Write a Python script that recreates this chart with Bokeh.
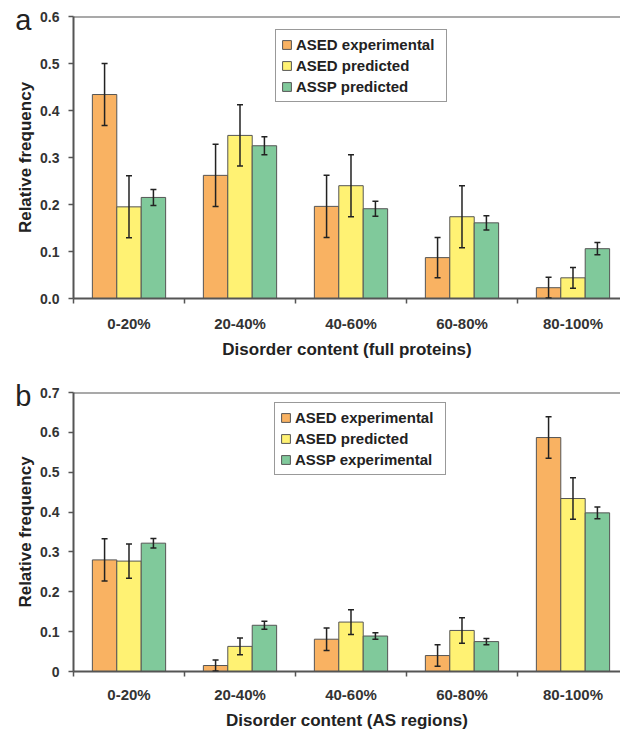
from bokeh.plotting import figure
from bokeh.layouts import column
from bokeh.models import (ColumnDataSource, Whisker, TeeHead, FixedTicker, Span,
                          Legend, LegendItem, NumeralTickFormatter, Range1d, LinearAxis)
from bokeh.embed import file_html
from bokeh.resources import INLINE

# ---------------- data ----------------
categories = ["0-20%", "20-40%", "40-60%", "60-80%", "80-100%"]

# panel a: full proteins
a_ased_exp = [0.434, 0.262, 0.196, 0.087, 0.023]
a_ased_exp_err = [0.066, 0.066, 0.066, 0.043, 0.022]
a_ased_pred = [0.195, 0.347, 0.240, 0.174, 0.044]
a_ased_pred_err = [0.066, 0.065, 0.066, 0.066, 0.022]
a_assp_pred = [0.215, 0.325, 0.191, 0.161, 0.106]
a_assp_pred_err = [0.017, 0.019, 0.016, 0.015, 0.013]
a_names = ["ASED experimental", "ASED predicted", "ASSP predicted"]

# panel b: AS regions
b_ased_exp = [0.280, 0.015, 0.081, 0.040, 0.587]
b_ased_exp_err = [0.053, 0.014, 0.028, 0.027, 0.052]
b_ased_pred = [0.277, 0.063, 0.124, 0.103, 0.434]
b_ased_pred_err = [0.043, 0.021, 0.031, 0.032, 0.052]
b_assp_exp = [0.322, 0.116, 0.089, 0.075, 0.398]
b_assp_exp_err = [0.012, 0.010, 0.008, 0.008, 0.015]
b_names = ["ASED experimental", "ASED predicted", "ASSP experimental"]

colors = ["#F9B262", "#FFF273", "#80C99B"]
FONT = "Liberation Sans"


def make_panel(letter, series, errs, names, ymax, yfmt, xtitle, height, top, bottom,
               legend_xy, tick_standoff, title_standoff):
    n = len(categories)
    p = figure(width=620, height=height, output_backend="svg", toolbar_location=None,
               x_range=Range1d(0, 4.928), y_range=Range1d(0, ymax),
               min_border_left=73, min_border_right=0, min_border_top=top,
               min_border_bottom=bottom, outline_line_color=None,
               background_fill_color="white", border_fill_color="white")
    p.xgrid.visible = False
    p.ygrid.visible = False

    offsets = [-0.22, 0.0, 0.22]
    items = []
    for k, (vals, err, name) in enumerate(zip(series, errs, names)):
        xs = [i + 0.5 + offsets[k] for i in range(n)]
        src = ColumnDataSource(dict(x=xs, top=vals,
                                    lo=[v - e for v, e in zip(vals, err)],
                                    hi=[v + e for v, e in zip(vals, err)]))
        r = p.vbar(x="x", top="top", width=0.22, bottom=0, source=src,
                   fill_color=colors[k], line_color="#555555", line_width=1)
        items.append(LegendItem(label=name, renderers=[r]))
        w = Whisker(base="x", lower="lo", upper="hi", source=src, level="annotation",
                    line_color="#222222", line_width=1.5,
                    upper_head=TeeHead(size=6, line_color="#222222", line_width=1.5),
                    lower_head=TeeHead(size=6, line_color="#222222", line_width=1.5))
        p.add_layout(w)

    legend = Legend(items=items, location=legend_xy, orientation="vertical",
                    border_line_color="#333333", border_line_width=1.5,
                    background_fill_color="white", background_fill_alpha=1,
                    label_text_font=FONT, label_text_font_style="bold",
                    label_text_font_size="15px", label_text_color="#222222",
                    glyph_width=11, glyph_height=11, label_height=19, label_width=145,
                    label_standoff=4, padding=5, spacing=2, margin=0)
    p.add_layout(legend)

    # top border line
    p.add_layout(Span(location=ymax, dimension="width", line_color="#555555", line_width=2))

    # x axis: labels at category centres, ticks at boundaries
    xa = p.xaxis[0]
    xa.ticker = FixedTicker(ticks=[i + 0.5 for i in range(n)],
                            minor_ticks=list(range(n + 1)))
    xa.major_label_overrides = {i + 0.5: c for i, c in enumerate(categories)}
    xa.major_tick_out = 0
    xa.major_tick_in = 0
    xa.minor_tick_out = 5
    xa.minor_tick_in = 0
    xa.minor_tick_line_color = "#555555"
    xa.minor_tick_line_width = 1.5
    xa.axis_line_color = "#555555"
    xa.axis_line_width = 2
    xa.major_label_text_font = FONT
    xa.major_label_text_font_style = "bold"
    xa.major_label_text_font_size = "15px"
    xa.major_label_text_color = "#333333"
    xa.major_label_standoff = tick_standoff
    xa.axis_label = xtitle
    xa.axis_label_text_font = FONT
    xa.axis_label_text_font_style = "bold"
    xa.axis_label_text_font_size = "17px"
    xa.axis_label_text_color = "#222222"
    xa.axis_label_standoff = title_standoff

    ya = p.yaxis[0]
    ya.ticker = FixedTicker(ticks=[i / 10 for i in range(int(round(ymax * 10)) + 1)])
    ya.formatter = NumeralTickFormatter(format=yfmt)
    ya.major_tick_out = 5
    ya.major_tick_in = 0
    ya.minor_tick_out = 0
    ya.minor_tick_in = 0
    ya.major_tick_line_color = "#555555"
    ya.major_tick_line_width = 1.5
    ya.axis_line_color = "#555555"
    ya.axis_line_width = 2
    ya.major_label_text_font = FONT
    ya.major_label_text_font_style = "bold"
    ya.major_label_text_font_size = "14px"
    ya.major_label_text_color = "#333333"
    ya.major_label_standoff = 9
    ya.axis_label = "Relative frequency"
    ya.axis_label_text_font = FONT
    ya.axis_label_text_font_style = "bold"
    ya.axis_label_text_font_size = "17px"
    ya.axis_label_text_color = "#222222"
    ya.axis_label_standoff = 2

    # panel letter, drawn as the single label of an extra (lineless) left axis
    letter_tick = ymax * 0.987
    la = LinearAxis(ticker=FixedTicker(ticks=[letter_tick], minor_ticks=[]),
                    major_label_overrides={letter_tick: letter},
                    axis_line_color=None, major_tick_line_color=None,
                    minor_tick_line_color=None, major_tick_out=0, major_tick_in=0,
                    minor_tick_out=0, minor_tick_in=0, major_label_standoff=-18,
                    major_label_text_font=FONT, major_label_text_font_size="29px",
                    major_label_text_font_style="normal", major_label_text_color="#222222")
    p.add_layout(la, "left")
    return p


pa = make_panel("a", [a_ased_exp, a_ased_pred, a_assp_pred],
                [a_ased_exp_err, a_ased_pred_err, a_assp_pred_err], a_names,
                0.6, "0.0", "Disorder content (full proteins)",
                height=365, top=16, bottom=67, legend_xy=(202, 196),
                tick_standoff=11, title_standoff=5)
pb = make_panel("b", [b_ased_exp, b_ased_pred, b_assp_exp],
                [b_ased_exp_err, b_ased_pred_err, b_assp_exp_err], b_names,
                0.7, "0.[0]", "Disorder content (AS regions)",
                height=367, top=27, bottom=60, legend_xy=(201, 196),
                tick_standoff=9, title_standoff=5)

layout = column(pa, pb, spacing=0)
open("out.html", "w").write(file_html(layout, INLINE))
